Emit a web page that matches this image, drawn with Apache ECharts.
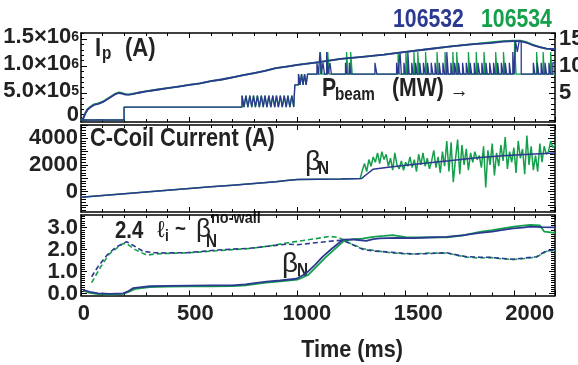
<!DOCTYPE html>
<html>
<head>
<meta charset="utf-8">
<script src="https://cdn.jsdelivr.net/npm/echarts@6/dist/echarts.min.js"></script>
<style>
html, body { margin: 0; padding: 0; background: #fff; }
#main { width: 578px; height: 365px; }
</style>
</head>
<body>
<div id="main"></div>
<script>
const FONT = "'Liberation Sans', Arial, sans-serif";
const BLUE = '#2c3990';
const GREEN = '#14a04b';
const INK = '#222';

// shot labels
const shots = ['106532', '106534'];

// time axis
const timeTicks = [0, 500, 1000, 1500, 2000];

// Ip in MA, [time ms, value]
const ipBlue = [[0,0.00],[10,0.02],[20,0.12],[30,0.19],[45,0.24],[60,0.28],[80,0.30],[100,0.33],[120,0.38],[140,0.43],[160,0.48],[175,0.50],[190,0.49],[205,0.47],[220,0.47],[240,0.48],[260,0.50],[300,0.53],[350,0.56],[400,0.59],[450,0.62],[500,0.65],[550,0.68],[600,0.72],[650,0.75],[700,0.79],[750,0.83],[800,0.87],[850,0.91],[900,0.96],[950,0.99],[1000,1.02],[1100,1.07],[1200,1.13],[1300,1.17],[1400,1.21],[1500,1.26],[1600,1.31],[1700,1.36],[1800,1.40],[1900,1.43],[1950,1.45],[2000,1.46],[2030,1.46],[2060,1.43],[2090,1.38],[2120,1.35],[2150,1.32],[2190,1.31]];
const ipGreen = [[0,0.00],[10,0.03],[20,0.13],[30,0.20],[45,0.25],[60,0.29],[80,0.31],[100,0.34],[120,0.39],[140,0.44],[160,0.49],[175,0.51],[190,0.50],[205,0.48],[220,0.47],[240,0.49],[260,0.50],[300,0.53],[350,0.56],[400,0.59],[450,0.62],[500,0.65],[550,0.68],[600,0.72],[650,0.75],[700,0.79],[750,0.83],[800,0.87],[850,0.91],[900,0.96],[950,0.99],[1000,1.02],[1100,1.07],[1200,1.13],[1300,1.17],[1400,1.21],[1500,1.26],[1600,1.31],[1700,1.36],[1800,1.40],[1900,1.44],[1950,1.46],[2000,1.47],[2030,1.47],[2060,1.44],[2090,1.39],[2120,1.35],[2150,1.32],[2190,1.31]];

// beam power in MW, steps [time ms, level held until next time]
const pbBlue = [[0,0],[199,2.4],[744,4.5],[753,2.4],[762,4.5],[771,2.4],[780,4.5],[789,2.4],[797,4.5],[806,2.4],[815,4.5],[824,2.4],[833,4.5],[842,2.4],[850,4.5],[859,2.4],[868,4.5],[877,2.4],[886,4.5],[895,2.4],[903,4.5],[912,2.4],[921,4.5],[930,2.4],[939,4.5],[948,2.4],[956,4.5],[965,2.4],[974,4.5],[983,2.4],[988,6.5],[1005,8.5],[1012,6.5],[1019,8.5],[1026,6.5],[1033,8.5],[1040,6.5],[1047,8.5],[1090,10.6],[1097,8.5],[1104,12.6],[1110,8.5],[1118,10.6],[1125,8.5],[1135,12.6],[1141,8.5],[1150,10.6],[1157,8.5],[1222,10.6],[1229,8.5],[1240,10.6],[1247,8.5],[1358,10.6],[1367,8.5],[1458,10.6],[1465,8.5],[1474,12.6],[1480,8.5],[1492,10.6],[1499,8.5],[1510,12.6],[1516,8.5],[1528,10.6],[1535,8.5],[1546,10.6],[1553,8.5],[1565,10.6],[1571,8.5],[1582,10.6],[1590,8.5],[1601,10.6],[1607,8.5],[1618,10.6],[1626,8.5],[1636,10.6],[1643,8.5],[1655,10.6],[1661,8.5],[1672,10.6],[1680,8.5],[1690,12.6],[1697,8.5],[1709,10.6],[1715,8.5],[1726,10.6],[1734,8.5],[1744,10.6],[1751,8.5],[1763,10.6],[1769,8.5],[1780,10.6],[1788,8.5],[1798,10.6],[1805,8.5],[1817,10.6],[1823,8.5],[1834,10.6],[1842,8.5],[1852,10.6],[1859,8.5],[1871,10.6],[1877,8.5],[1888,10.6],[1896,8.5],[1906,10.6],[1913,8.5],[1925,10.6],[1931,8.5],[1942,10.6],[1950,8.5],[1960,10.6],[1967,8.5],[1979,10.6],[1985,8.5],[1995,12.6],[2001,8.5],[2008,14.5],[2016,12.6],[2024,14.5],[2034,8.5],[2090,10.6],[2097,8.5],[2108,10.6],[2115,8.5],[2126,10.6],[2133,8.5],[2144,10.6],[2151,8.5],[2162,10.6],[2169,8.5],[2180,10.6],[2190,10.6]];
const pbGreenLate = [[1050,8.5],[1106,12.6],[1113,8.5],[1140,12.6],[1147,8.5],[1227,12.6],[1234,8.5],[1246,12.6],[1253,8.5],[1465,12.6],[1471,8.5],[1501,12.6],[1507,8.5],[1538,12.6],[1543,8.5],[1556,12.6],[1562,8.5],[1592,12.6],[1597,8.5],[1645,12.6],[1651,8.5],[1682,12.6],[1688,8.5],[1718,12.6],[1723,8.5],[1736,12.6],[1742,8.5],[1790,12.6],[1796,8.5],[1826,12.6],[1831,8.5],[1862,12.6],[1868,8.5],[1916,12.6],[1922,8.5],[1952,12.6],[1958,8.5],[2003,14.5],[2010,8.5],[2105,12.6],[2111,8.5],[2135,12.6],[2141,8.5],[2170,12.6],[2176,8.5],[2190,8.5]];

// C-coil current in A
const coilBlue = [[0,-430],[100,-300],[200,-170],[300,-40],[400,90],[500,220],[600,350],[700,480],[800,610],[900,740],[950,830],[1000,900],[1100,920],[1200,945],[1297,985],[1320,1300],[1349,1670],[1420,1820],[1500,1980],[1600,2150],[1700,2310],[1843,2550],[1950,2680],[2050,2790],[2190,2900]];
const coilGreenLate = [[1290,980],[1300,1600],[1310,2100],[1320,1500],[1330,2400],[1340,1900],[1350,2600],[1360,2200],[1370,2900],[1380,2100],[1390,3000],[1400,2400],[1410,2800],[1420,1900],[1430,2500],[1440,1600],[1450,2900],[1460,2000],[1470,1700],[1480,2300],[1490,1600],[1500,2200],[1510,1900],[1520,2600],[1530,1800],[1540,2400],[1550,1500],[1560,2800],[1570,2000],[1580,2900],[1590,1900],[1600,2500],[1610,1700],[1620,2300],[1630,3100],[1640,1800],[1650,2600],[1660,1400],[1670,3000],[1680,1900],[1690,3800],[1700,1500],[1710,3700],[1720,700],[1730,2400],[1740,3900],[1750,1300],[1760,3500],[1770,2000],[1780,3200],[1790,1600],[1800,2900],[1810,2200],[1820,3000],[1830,2400],[1840,2700],[1850,1800],[1860,3400],[1870,300],[1880,3100],[1890,2000],[1900,3600],[1910,1200],[1920,2900],[1930,1900],[1940,3500],[1950,2300],[1960,4100],[1970,1700],[1980,3000],[1990,2200],[2000,3300],[2010,1400],[2020,3800],[2030,2500],[2040,3200],[2050,1300],[2060,4200],[2070,2000],[2080,3400],[2090,1600],[2100,2700],[2110,1500],[2120,3600],[2130,2200],[2140,3400],[2150,2800],[2160,3000],[2170,3800],[2180,3300],[2190,3500]];

// 2.4 li (dashed) and betaN (solid)
const liBlue = [[49,0.77],[80,1.25],[120,1.75],[160,2.10],[195,2.28],[211,2.36],[240,2.20],[287,1.92],[340,1.86],[395,1.85],[488,1.86],[560,1.92],[627,1.98],[700,2.02],[780,2.06],[860,2.15],[950,2.25],[1000,2.22],[1072,2.30],[1150,2.38],[1210,2.43],[1260,2.20],[1303,2.01],[1360,1.93],[1411,1.90],[1480,1.84],[1534,1.80],[1600,1.82],[1690,1.86],[1740,1.75],[1782,1.68],[1840,1.66],[1889,1.65],[1950,1.60],[1997,1.56],[2050,1.62],[2105,1.68],[2150,1.95],[2190,1.98]];
const liGreen = [[49,0.50],[90,1.20],[130,1.80],[170,2.10],[195,2.28],[215,2.25],[250,2.00],[304,1.75],[340,1.80],[380,1.82],[450,1.84],[500,1.86],[560,1.90],[627,1.95],[700,2.00],[780,2.05],[860,2.15],[950,2.30],[1050,2.45],[1100,2.52],[1150,2.60],[1190,2.55],[1230,2.35],[1300,2.05],[1360,1.95],[1411,1.88],[1480,1.82],[1534,1.80],[1600,1.84],[1690,1.84],[1740,1.74],[1782,1.66],[1840,1.62],[1889,1.64],[1950,1.58],[1997,1.55],[2050,1.60],[2105,1.66],[2150,1.92],[2190,1.96]];
const betaBlue = [[10,0.17],[40,0.08],[80,0.02],[134,-0.01],[195,0.02],[220,0.12],[240,0.25],[280,0.30],[318,0.34],[400,0.36],[500,0.37],[600,0.38],[700,0.38],[760,0.42],[820,0.50],[857,0.55],[920,0.60],[995,0.68],[1040,0.92],[1080,1.30],[1117,1.68],[1160,2.05],[1210,2.45],[1260,2.46],[1318,2.40],[1350,2.48],[1380,2.51],[1450,2.53],[1535,2.52],[1600,2.55],[1690,2.58],[1760,2.65],[1843,2.76],[1900,2.82],[1950,2.90],[1997,2.96],[2040,3.00],[2075,3.04],[2130,3.02],[2190,3.01]];
const betaGreen = [[10,0.15],[40,0.04],[80,-0.02],[134,-0.04],[195,-0.01],[225,0.10],[250,0.22],[290,0.27],[318,0.30],[400,0.32],[500,0.33],[600,0.34],[700,0.35],[760,0.38],[820,0.46],[857,0.50],[920,0.56],[1000,0.64],[1050,0.85],[1090,1.25],[1130,1.65],[1170,2.00],[1215,2.40],[1260,2.48],[1300,2.50],[1350,2.58],[1400,2.62],[1440,2.66],[1500,2.57],[1560,2.55],[1620,2.56],[1690,2.56],[1760,2.64],[1843,2.80],[1900,2.88],[1950,2.96],[2000,3.04],[2075,3.12],[2120,3.10],[2140,2.82],[2190,2.76]];

// tick label values
const ipLabels = { 0: '{z|0}', 500000: '{b|5.0×10}{s|5}', 1000000: '{b|1.0×10}{s|6}', 1500000: '{b|1.5×10}{s|6}' };
const pbLabels = [5, 10, 15];
const coilLabels = [0, 2000, 4000];
const betaLabels = [0, 1, 2, 3];

const T_MAX = 2190;

function range(a, b, step) {
  const out = [];
  for (let i = 0; a + i * step <= b + 1e-9; i++) out.push(+(a + i * step).toFixed(6));
  return out;
}

const labelFont = { fontFamily: FONT, fontWeight: 'bold', fontSize: 22, color: INK, lineHeight: 16 };

function xAxes(gi) {
  const base = { gridIndex: gi, type: 'value', min: 0, max: T_MAX, interval: 500, splitLine: { show: false } };
  return ['bottom', 'top'].map(function (pos) {
    return Object.assign({}, base, {
      position: pos,
      axisLine: { show: true, onZero: false, lineStyle: { color: '#000', width: 1.5 } },
      axisTick: { show: true, inside: true, length: 5, lineStyle: { color: '#000', width: 1 } },
      minorTick: { show: true, splitNumber: 5, length: 3, lineStyle: { color: '#000', width: 1 } },
      axisLabel: { show: false }
    });
  });
}

// labels of the time axis sit a little right of their ticks in the original
const timeLabelAxis = {
  gridIndex: 2, type: 'value', min: -13, max: 2113, position: 'bottom',
  axisLine: { show: false }, axisTick: { show: false }, splitLine: { show: false },
  axisLabel: Object.assign({ show: true, customValues: timeTicks, margin: 10, hideOverlap: false,
    formatter: function (v) { return String(v); } }, labelFont)
};

function yAxes(gi, left, right) {
  const base = { gridIndex: gi, type: 'value', splitLine: { show: false } };
  const out = [];
  [['left', left], ['right', right]].forEach(function (p) {
    const s = p[1];
    out.push(Object.assign({}, base, {
      position: p[0], min: s.min, max: s.max,
      axisLine: { show: true, onZero: false, lineStyle: { color: '#000', width: 1.5 } },
      axisTick: { show: true, inside: true, length: s.majorLen || 6, customValues: s.major, lineStyle: { color: '#000', width: 1 } },
      axisLabel: s.labels ? Object.assign({ show: true, customValues: s.labels, margin: s.margin || 3,
        hideOverlap: false, formatter: s.fmt }, labelFont, { rich: s.rich }) : { show: false }
    }));
    out.push(Object.assign({}, base, {
      position: p[0], min: s.min, max: s.max,
      axisLine: { show: false, onZero: false },
      axisTick: { show: true, inside: true, length: s.minorLen || 3, customValues: s.minor, lineStyle: { color: '#000', width: 1 } },
      axisLabel: { show: false }
    }));
  });
  return out;
}

const IP_MIN = -0.037e6, IP_MAX = 1.611e6;
const supRich = {
  b: { fontFamily: FONT, fontWeight: 'bold', fontSize: 22, color: INK, lineHeight: 18, verticalAlign: 'bottom' },
  s: { fontFamily: FONT, fontWeight: 'bold', fontSize: 14, color: INK, lineHeight: 10, verticalAlign: 'top' },
  z: { fontFamily: FONT, fontWeight: 'bold', fontSize: 22, color: INK, lineHeight: 14, padding: [0, 0, 10, 0] }
};

const coilSide = { min: -1540, max: 5000, major: range(-1000, 5000, 1000), minor: range(-1400, 5000, 200), majorLen: 7, minorLen: 5 };
const betaSide = { min: -0.08, max: 3.57, major: betaLabels, minor: range(0, 3.5, 0.1), majorLen: 6, minorLen: 4 };

const yAxisList = []
  .concat(yAxes(0,
    { min: IP_MIN, max: IP_MAX, major: [0, 5e5, 1e6, 1.5e6], minor: range(0, 1.6e6, 1e5),
      labels: Object.keys(ipLabels).map(Number), fmt: function (v) { return ipLabels[Math.round(v)]; }, rich: supRich, margin: 2 },
    { min: IP_MIN / 1e5, max: IP_MAX / 1e5, major: [0, 5, 10, 15], minor: range(0, 16, 1), minorLen: 4,
      labels: pbLabels, fmt: function (v) { return String(v); }, margin: 4 }))
  .concat(yAxes(1,
    Object.assign({ labels: coilLabels, fmt: function (v) { return String(v); } }, coilSide),
    coilSide))
  .concat(yAxes(2,
    Object.assign({ labels: betaLabels, fmt: function (v) { return v.toFixed(1); } }, betaSide),
    betaSide));

// x axes: per grid [bottom, top]; the time label axis is last
const xAxisList = [].concat(xAxes(0), xAxes(1), xAxes(2), [timeLabelAxis]);

function scaled(arr, k) { return arr.map(function (p) { return [p[0], p[1] * k]; }); }

const pbGreen = pbBlue.filter(function (p) { return p[0] < 1050; }).concat(pbGreenLate);
const coilGreen = coilBlue.filter(function (p) { return p[0] < 1290; }).concat(coilGreenLate);

function line(name, data, gi, yRight, color, width, extra) {
  return Object.assign({
    name: name, type: 'line', data: data, xAxisIndex: gi * 2, yAxisIndex: gi * 4 + (yRight ? 2 : 0),
    showSymbol: false, symbol: 'none', silent: true,
    lineStyle: { color: color, width: width }
  }, extra || {});
}

const series = [
  line('Pbeam ' + shots[1], pbGreen, 0, true, GREEN, 1.3, { step: 'end' }),
  line('Pbeam ' + shots[0], pbBlue, 0, true, BLUE, 1.3, { step: 'end' }),
  line('Ip ' + shots[1], scaled(ipGreen, 1e6), 0, false, GREEN, 1.8),
  line('Ip ' + shots[0], scaled(ipBlue, 1e6), 0, false, BLUE, 1.8),
  line('C-coil ' + shots[1], coilGreen, 1, false, GREEN, 1.5),
  line('C-coil ' + shots[0], coilBlue, 1, false, BLUE, 1.5),
  line('li ' + shots[1], liGreen, 2, false, GREEN, 1.6, { lineStyle: { color: GREEN, width: 1.6, type: [5, 3] } }),
  line('li ' + shots[0], liBlue, 2, false, BLUE, 1.6, { lineStyle: { color: BLUE, width: 1.6, type: [5, 3] } }),
  line('betaN ' + shots[1], betaGreen, 2, false, GREEN, 1.8),
  line('betaN ' + shots[0], betaBlue, 2, false, BLUE, 1.8)
];

function txt(x, y, text, size, opts) {
  opts = opts || {};
  return { type: 'text', x: x, y: y, scaleX: opts.sx || 0.85, silent: true,
    style: { text: text, fill: opts.color || INK, fontFamily: FONT, fontSize: size,
      fontWeight: opts.weight || 'bold', verticalAlign: 'top', align: opts.align || 'left' } };
}
const greek = { weight: 'normal', sx: 1 };

const graphics = [
  txt(393, 8, shots[0], 25, { color: BLUE }),
  txt(481, 8, shots[1], 25, { color: GREEN }),
  txt(95, 36, 'I', 26), txt(102, 45, 'p', 18), txt(125, 36, '(A)', 26),
  txt(322, 77, 'P', 25), txt(335, 86, 'beam', 18), txt(392, 77, '(MW)', 25), txt(450, 80, '→', 22, { weight: 'normal' }),
  txt(90, 127, 'C-Coil Current (A)', 25, { sx: 0.87 }),
  txt(305, 148, 'β', 28, greek), txt(318, 160, 'N', 18),
  txt(115, 219, '2.4', 24), txt(157, 219, 'ℓ', 23, greek), txt(165, 229, 'i', 16),
  txt(175, 219, '~', 22), txt(196, 217, 'β', 26, greek), txt(206, 233, 'N', 18), txt(211, 210, 'no-wall', 17),
  txt(282, 250, 'β', 28, greek), txt(297, 262, 'N', 18),
  txt(352, 339, 'Time (ms)', 23, { sx: 0.94, align: 'center' })
];

const option = {
  animation: false,
  backgroundColor: '#fff',
  grid: [
    { left: 81, top: 33, width: 474, height: 89, outerBoundsMode: 'none' },
    { left: 81, top: 125, width: 474, height: 87, outerBoundsMode: 'none' },
    { left: 81, top: 215, width: 474, height: 80.5, outerBoundsMode: 'none' }
  ],
  xAxis: xAxisList,
  yAxis: yAxisList,
  series: series,
  graphic: graphics
};

const chart = echarts.init(document.getElementById('main'), null, { renderer: 'canvas' });
chart.setOption(option);
</script>
</body>
</html>
